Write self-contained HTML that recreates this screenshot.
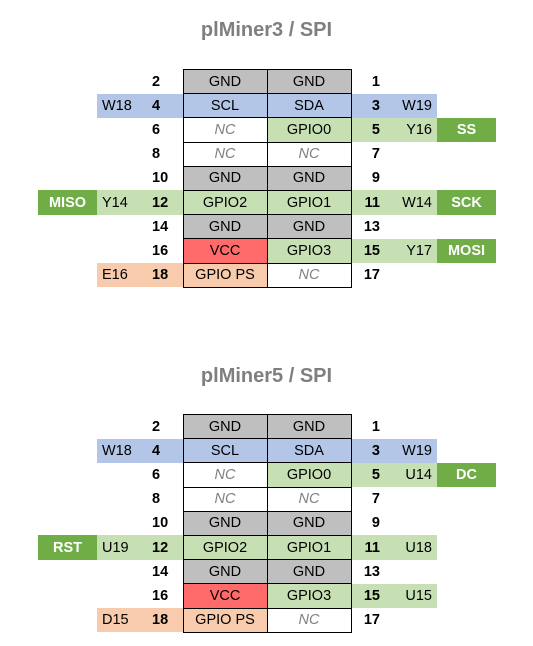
<!DOCTYPE html>
<html><head><meta charset="utf-8"><style>
body{margin:0;width:533px;height:646px;background:#fff;font-family:"Liberation Sans",Arial,sans-serif;position:relative;overflow:hidden}
.t{position:absolute;left:0;width:533px;text-align:center;font-weight:bold;font-size:20px;color:#7f7f7f}
table{position:absolute;left:38px;border-collapse:collapse;table-layout:fixed;font-size:14.5px;color:#000}
td{height:24.2px;padding:0;box-sizing:border-box;white-space:nowrap;overflow:hidden}
.c1{width:59px;text-align:center;color:#fff;font-weight:bold}
.c2{width:45px;padding-left:5px}
.c3{width:41px;padding-left:10px;font-weight:bold}
.c4,.c5{width:84px;text-align:center;border:1px solid #000}
.c6{width:39px;text-align:right;padding-right:10px;font-weight:bold}
.c7{width:47px;text-align:right;padding-right:5px}
.c8{width:59px;text-align:center;color:#fff;font-weight:bold}
.g{background:#bfbfbf}.b{background:#b4c6e7}.l{background:#c6e0b4}.d{background:#70ad47}.r{background:#ff6b6b}.p{background:#f8cbad}
.nc{color:#7f7f7f;font-style:italic}
</style></head><body>
<div class="t" style="top:19px">plMiner3 / SPI</div>
<table style="top:69px">
<tr><td class="c1"></td><td class="c2"></td><td class="c3">2</td><td class="c4 g">GND</td><td class="c5 g">GND</td><td class="c6">1</td><td class="c7"></td><td class="c8"></td></tr>
<tr><td class="c1"></td><td class="c2 b">W18</td><td class="c3 b">4</td><td class="c4 b">SCL</td><td class="c5 b">SDA</td><td class="c6 b">3</td><td class="c7 b">W19</td><td class="c8"></td></tr>
<tr><td class="c1"></td><td class="c2"></td><td class="c3">6</td><td class="c4 nc">NC</td><td class="c5 l">GPIO0</td><td class="c6 l">5</td><td class="c7 l">Y16</td><td class="c8 d">SS</td></tr>
<tr><td class="c1"></td><td class="c2"></td><td class="c3">8</td><td class="c4 nc">NC</td><td class="c5 nc">NC</td><td class="c6">7</td><td class="c7"></td><td class="c8"></td></tr>
<tr><td class="c1"></td><td class="c2"></td><td class="c3">10</td><td class="c4 g">GND</td><td class="c5 g">GND</td><td class="c6">9</td><td class="c7"></td><td class="c8"></td></tr>
<tr><td class="c1 d">MISO</td><td class="c2 l">Y14</td><td class="c3 l">12</td><td class="c4 l">GPIO2</td><td class="c5 l">GPIO1</td><td class="c6 l">11</td><td class="c7 l">W14</td><td class="c8 d">SCK</td></tr>
<tr><td class="c1"></td><td class="c2"></td><td class="c3">14</td><td class="c4 g">GND</td><td class="c5 g">GND</td><td class="c6">13</td><td class="c7"></td><td class="c8"></td></tr>
<tr><td class="c1"></td><td class="c2"></td><td class="c3">16</td><td class="c4 r">VCC</td><td class="c5 l">GPIO3</td><td class="c6 l">15</td><td class="c7 l">Y17</td><td class="c8 d">MOSI</td></tr>
<tr><td class="c1"></td><td class="c2 p">E16</td><td class="c3 p">18</td><td class="c4 p">GPIO PS</td><td class="c5 nc">NC</td><td class="c6">17</td><td class="c7"></td><td class="c8"></td></tr>
</table>
<div class="t" style="top:365px">plMiner5 / SPI</div>
<table style="top:414px">
<tr><td class="c1"></td><td class="c2"></td><td class="c3">2</td><td class="c4 g">GND</td><td class="c5 g">GND</td><td class="c6">1</td><td class="c7"></td><td class="c8"></td></tr>
<tr><td class="c1"></td><td class="c2 b">W18</td><td class="c3 b">4</td><td class="c4 b">SCL</td><td class="c5 b">SDA</td><td class="c6 b">3</td><td class="c7 b">W19</td><td class="c8"></td></tr>
<tr><td class="c1"></td><td class="c2"></td><td class="c3">6</td><td class="c4 nc">NC</td><td class="c5 l">GPIO0</td><td class="c6 l">5</td><td class="c7 l">U14</td><td class="c8 d">DC</td></tr>
<tr><td class="c1"></td><td class="c2"></td><td class="c3">8</td><td class="c4 nc">NC</td><td class="c5 nc">NC</td><td class="c6">7</td><td class="c7"></td><td class="c8"></td></tr>
<tr><td class="c1"></td><td class="c2"></td><td class="c3">10</td><td class="c4 g">GND</td><td class="c5 g">GND</td><td class="c6">9</td><td class="c7"></td><td class="c8"></td></tr>
<tr><td class="c1 d">RST</td><td class="c2 l">U19</td><td class="c3 l">12</td><td class="c4 l">GPIO2</td><td class="c5 l">GPIO1</td><td class="c6 l">11</td><td class="c7 l">U18</td><td class="c8"></td></tr>
<tr><td class="c1"></td><td class="c2"></td><td class="c3">14</td><td class="c4 g">GND</td><td class="c5 g">GND</td><td class="c6">13</td><td class="c7"></td><td class="c8"></td></tr>
<tr><td class="c1"></td><td class="c2"></td><td class="c3">16</td><td class="c4 r">VCC</td><td class="c5 l">GPIO3</td><td class="c6 l">15</td><td class="c7 l">U15</td><td class="c8"></td></tr>
<tr><td class="c1"></td><td class="c2 p">D15</td><td class="c3 p">18</td><td class="c4 p">GPIO PS</td><td class="c5 nc">NC</td><td class="c6">17</td><td class="c7"></td><td class="c8"></td></tr>
</table>
</body></html>
